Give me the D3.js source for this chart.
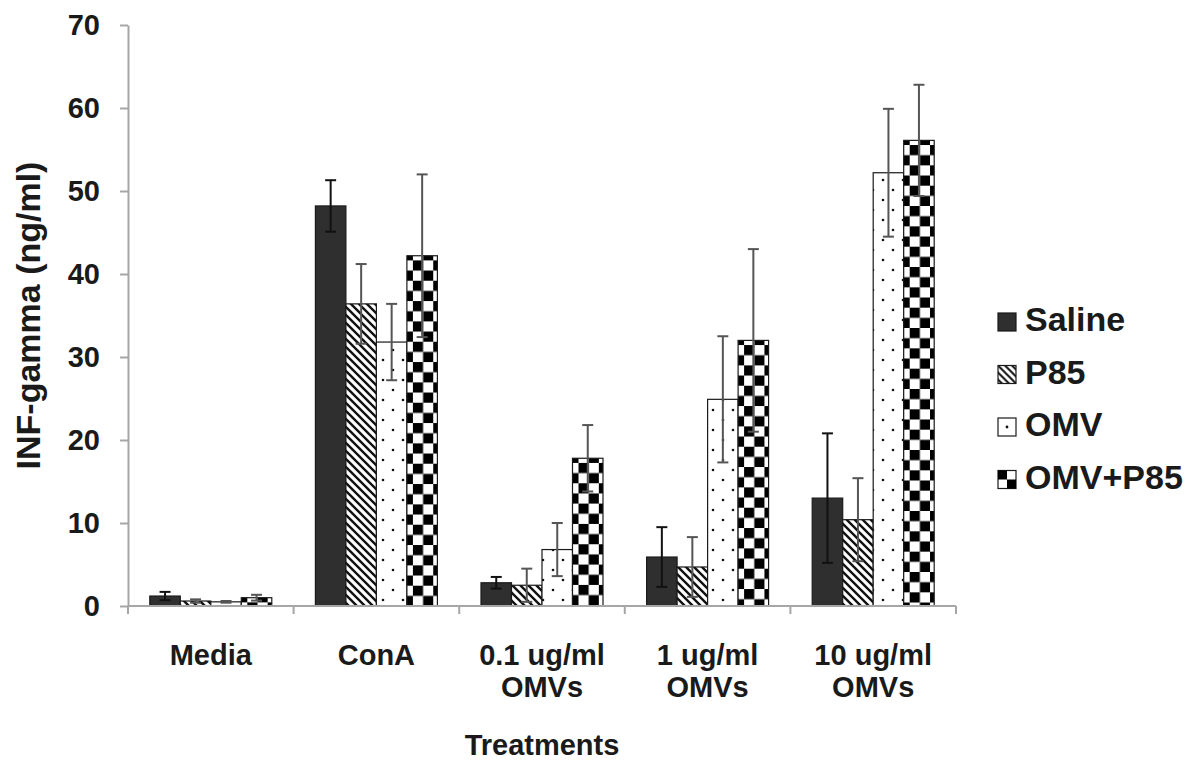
<!DOCTYPE html>
<html>
<head>
<meta charset="utf-8">
<script src="https://cdn.jsdelivr.net/npm/d3@7/dist/d3.min.js"></script>
<style>
    body { margin: 0; background: #fff; }
    text { font-family: "Liberation Sans", Arial, sans-serif; font-weight: bold; fill: #1a1a1a; }
</style>
</head>
<body>
<div id="chart"></div>
<script>
// categories (treatments) and the four groups
const categories = ["Media", "ConA", "0.1 ug/ml OMVs", "1 ug/ml OMVs", "10 ug/ml OMVs"];
const categoryLabels = [["Media"], ["ConA"], ["0.1 ug/ml", "OMVs"], ["1 ug/ml", "OMVs"], ["10 ug/ml", "OMVs"]];
const series = ["Saline", "P85", "OMV", "OMV+P85"];

// means per series, in category order
const saline = [1.2, 48.2, 2.8, 5.9, 13.0];
const p85 = [0.6, 36.4, 2.5, 4.7, 10.4];
const omv = [0.5, 31.8, 6.8, 24.9, 52.2];
const omvP85 = [1.0, 42.2, 17.8, 32.0, 56.1];

// error bar half-lengths
const salineErr = [0.5, 3.1, 0.7, 3.6, 7.8];
const p85Err = [0.2, 4.8, 2.0, 3.6, 5.0];
const omvErr = [0.1, 4.6, 3.2, 7.6, 7.7];
const omvP85Err = [0.35, 9.8, 4.0, 11.0, 6.7];

const yTicks = [0, 10, 20, 30, 40, 50, 60, 70];

const values = [saline, p85, omv, omvP85];
const errors = [salineErr, p85Err, omvErr, omvP85Err];

let data = [];
categories.forEach((c, i) => {
    series.forEach((s, j) => {
        data.push({cat: c, key: s, value: values[j][i], err: errors[j][i]});
    });
});

let margin = {top: 25, left: 128};
let width = 828, height = 581;

let svg = d3.select("#chart").append("svg")
    .attr("width", 1193)
    .attr("height", 763);

let defs = svg.append("defs");

let g = svg.append("g")
    .attr("transform", `translate(${margin.left},${margin.top})`);

let x = d3.scaleBand()
    .domain(categories)
    .range([0, width]);

let xInner = d3.scaleBand()
    .domain(series)
    .range([0, x.bandwidth()])
    .paddingOuter(0.715);

let y = d3.scaleLinear()
    .domain([0, 70])
    .range([height, 0]);

// patterns
let stripe = defs.append("pattern")
    .attr("id", "stripe")
    .attr("patternUnits", "userSpaceOnUse")
    .attr("width", 8).attr("height", 8);
stripe.append("rect").attr("width", 8).attr("height", 8).attr("fill", "#fff");
stripe.append("path")
    .attr("d", "M-2,-2 L10,10 M-2,6 L2,10 M6,-2 L10,2")
    .attr("stroke", "#111").attr("stroke-width", 2.4);

let dots = defs.append("pattern")
    .attr("id", "dots")
    .attr("patternUnits", "userSpaceOnUse")
    .attr("width", 20).attr("height", 20);
dots.append("rect").attr("width", 20).attr("height", 20).attr("fill", "#fff");
dots.append("circle").attr("cx", 5).attr("cy", 5).attr("r", 1.3).attr("fill", "#111");
dots.append("circle").attr("cx", 15).attr("cy", 15).attr("r", 1.3).attr("fill", "#111");

function checkerPattern(id, px, py, cell) {
    let p = defs.append("pattern")
        .attr("id", id)
        .attr("patternUnits", "userSpaceOnUse")
        .attr("x", px).attr("y", py)
        .attr("width", cell * 2).attr("height", cell * 2);
    p.append("rect").attr("width", cell * 2).attr("height", cell * 2).attr("fill", "#fff");
    p.append("rect").attr("width", cell).attr("height", cell).attr("fill", "#000");
    p.append("rect").attr("x", cell).attr("y", cell).attr("width", cell).attr("height", cell).attr("fill", "#000");
}

function fillFor(d, i) {
    if (d.key === "Saline") return "#2f2f2f";
    if (d.key === "P85") return "url(#stripe)";
    if (d.key === "OMV") return "url(#dots)";
    return `url(#checker${i})`;
}

// checker patterns anchored on each bar
data.forEach((d, i) => {
    if (d.key === "OMV+P85") {
        checkerPattern("checker" + i,
            margin.left + x(d.cat) + xInner(d.key),
            margin.top + y(d.value),
            xInner.bandwidth() / 3);
    }
});

// y axis
let yAxis = g.append("g")
    .call(d3.axisLeft(y).tickValues(yTicks).tickSize(8).tickSizeOuter(0).tickPadding(20));
yAxis.select(".domain").attr("stroke", "#a6a6a6").attr("stroke-width", 2);
yAxis.selectAll(".tick line").attr("stroke", "#a6a6a6").attr("stroke-width", 2);
yAxis.selectAll(".tick text")
    .attr("font-size", 29)
    .attr("font-family", "Liberation Sans, Arial, sans-serif")
    .attr("font-weight", "bold")
    .attr("fill", "#1a1a1a");

// bars
g.selectAll(".bar")
    .data(data)
    .enter()
    .append("rect")
    .attr("class", "bar")
    .attr("x", d => x(d.cat) + xInner(d.key))
    .attr("y", d => y(d.value))
    .attr("width", xInner.bandwidth())
    .attr("height", d => height - y(d.value))
    .attr("fill", (d, i) => fillFor(d, i))
    .attr("stroke", "#1a1a1a")
    .attr("stroke-width", 1.2);

// x axis line and boundary ticks
g.append("line")
    .attr("x1", 0).attr("x2", width)
    .attr("y1", height).attr("y2", height)
    .attr("stroke", "#a6a6a6").attr("stroke-width", 2);

let bounds = categories.map(c => x(c)).concat([width]);
g.selectAll(".xtick")
    .data(bounds)
    .enter()
    .append("line")
    .attr("x1", d => d).attr("x2", d => d)
    .attr("y1", height).attr("y2", height + 8)
    .attr("stroke", "#a6a6a6").attr("stroke-width", 2);

// error bars
let errG = g.selectAll(".err")
    .data(data)
    .enter()
    .append("g")
    .attr("class", "err")
    .attr("stroke", d => d.key === "Saline" ? "#111" : "#555")
    .attr("stroke-width", 2);
errG.append("line")
    .attr("x1", d => x(d.cat) + xInner(d.key) + xInner.bandwidth() / 2)
    .attr("x2", d => x(d.cat) + xInner(d.key) + xInner.bandwidth() / 2)
    .attr("y1", d => y(Math.max(0, d.value - d.err)))
    .attr("y2", d => y(d.value + d.err));
errG.append("line")
    .attr("x1", d => x(d.cat) + xInner(d.key) + xInner.bandwidth() / 2 - 5.5)
    .attr("x2", d => x(d.cat) + xInner(d.key) + xInner.bandwidth() / 2 + 5.5)
    .attr("y1", d => y(d.value + d.err))
    .attr("y2", d => y(d.value + d.err));
errG.append("line")
    .attr("x1", d => x(d.cat) + xInner(d.key) + xInner.bandwidth() / 2 - 5.5)
    .attr("x2", d => x(d.cat) + xInner(d.key) + xInner.bandwidth() / 2 + 5.5)
    .attr("y1", d => y(Math.max(0, d.value - d.err)))
    .attr("y2", d => y(Math.max(0, d.value - d.err)));

// category labels
let labels = g.selectAll(".xlabel")
    .data(categories)
    .enter()
    .append("text")
    .attr("class", "xlabel")
    .attr("text-anchor", "middle")
    .attr("font-size", 29)
    .attr("transform", d => `translate(${x(d) + x.bandwidth() / 2},${height + 59})`);
labels.each(function(d, i) {
    d3.select(this).selectAll("tspan")
        .data(categoryLabels[i])
        .enter()
        .append("tspan")
        .attr("x", 0)
        .attr("dy", (t, k) => k === 0 ? 0 : 32)
        .text(t => t);
});

// axis titles
svg.append("text")
    .attr("text-anchor", "middle")
    .attr("font-size", 29)
    .attr("x", margin.left + width / 2)
    .attr("y", 755)
    .text("Treatments");

svg.append("text")
    .attr("text-anchor", "middle")
    .attr("font-size", 34)
    .attr("transform", `translate(40,${margin.top + height / 2}) rotate(-90)`)
    .text("INF-gamma (ng/ml)");

// legend
let ls = defs.append("pattern").attr("id", "lstripe").attr("patternUnits", "userSpaceOnUse")
    .attr("width", 7).attr("height", 7);
ls.append("rect").attr("width", 7).attr("height", 7).attr("fill", "#fff");
ls.append("path").attr("d", "M-2,-2 L9,9 M-2,5 L2,9 M5,-2 L9,2").attr("stroke", "#111").attr("stroke-width", 2);

let legend = svg.append("g")
    .attr("transform", "translate(998,0)");

let rows = legend.selectAll(".lrow")
    .data(series)
    .enter()
    .append("g")
    .attr("class", "lrow")
    .attr("transform", (d, i) => `translate(0,${313 + i * 52.5})`);

rows.append("rect")
    .attr("width", 18).attr("height", 18)
    .attr("fill", (d, i) => i === 0 ? "#2f2f2f" : (i === 1 ? "url(#lstripe)" : "#fff"))
    .attr("stroke", "#1a1a1a").attr("stroke-width", 1.2);

// dot and checker swatch details
rows.filter((d, i) => i === 2).append("circle")
    .attr("cx", 9).attr("cy", 9).attr("r", 1.4).attr("fill", "#111");
rows.filter((d, i) => i === 3).selectAll(".ck")
    .data([[0, 0], [9, 9]])
    .enter()
    .append("rect")
    .attr("x", d => d[0]).attr("y", d => d[1])
    .attr("width", 9).attr("height", 9).attr("fill", "#000");

rows.append("text")
    .attr("x", 27)
    .attr("y", 18)
    .attr("font-size", 34)
    .text(d => d);
</script>
</body>
</html>
